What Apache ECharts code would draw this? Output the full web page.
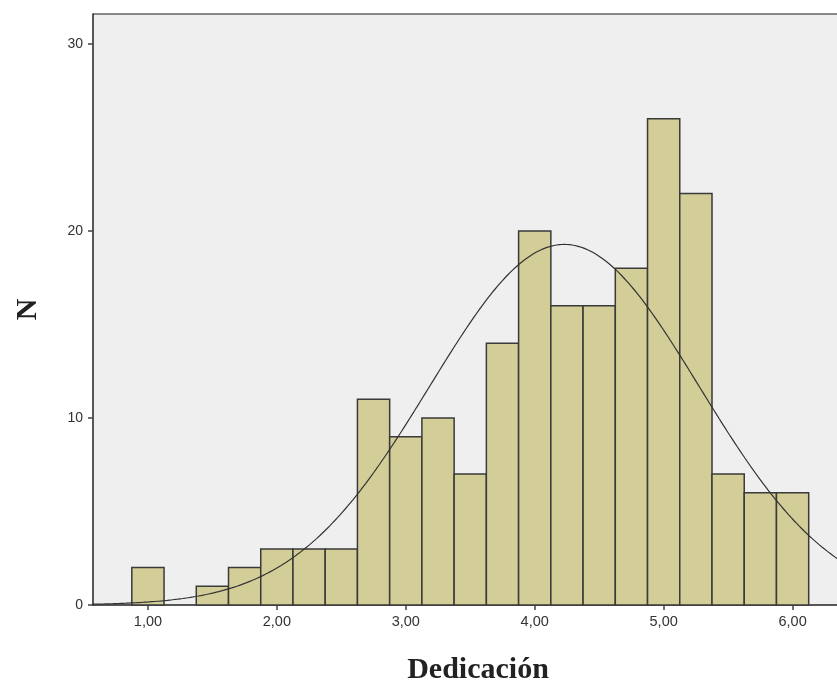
<!DOCTYPE html>
<html><head><meta charset="utf-8">
<script src="https://cdn.jsdelivr.net/npm/echarts@6/dist/echarts.min.js"></script>
<style>html,body{margin:0;padding:0;background:#fff}#c{width:837px;height:684px}</style>
</head><body><div id="c"></div>
<script>
// Histogram bins (left edges) and counts
const binStarts = [0.875,1.125,1.375,1.625,1.875,2.125,2.375,2.625,2.875,3.125,3.375,3.625,3.875,4.125,4.375,4.625,4.875,5.125,5.375,5.625,5.875];
const counts    = [2,0,1,2,3,3,3,11,9,10,7,14,20,16,16,18,26,22,7,6,6];
const binWidth = 0.25;
const xTicks = [1,2,3,4,5,6];
const xTickLabels = ['1,00','2,00','3,00','4,00','5,00','6,00'];
const yTicks = [0,10,20,30];
// Fitted normal curve parameters (estimated)
const MEAN = 4.23;
const SD = 1.045;
const N = 202;

const curve = [];
for (let x = 0.57; x <= 6.36; x += 0.02) {
  const y = N * binWidth / (SD * Math.sqrt(2 * Math.PI)) * Math.exp(-0.5 * Math.pow((x - MEAN) / SD, 2));
  curve.push([x, y]);
}
const barData = binStarts.map((s, i) => [s, s + binWidth, counts[i]]).filter(d => d[2] > 0);

const chart = echarts.init(document.getElementById('c'));
chart.setOption({
  animation: false,
  backgroundColor: '#ffffff',
  grid: { left: 93, right: -2, top: 14, bottom: 79, show: true, backgroundColor: '#efefef', borderWidth: 0, outerBoundsMode: 'none', containLabel: false },
  xAxis: {
    type: 'value', min: 0.574, max: 6.36,
    axisLine: { show: true, onZero: false, lineStyle: { color: '#222', width: 1.5 } },
    axisTick: { show: true, customValues: xTicks, length: 5, lineStyle: { color: '#444', width: 1.5 } },
    axisLabel: { customValues: xTicks, formatter: v => xTickLabels[xTicks.indexOf(Math.round(v))] || '', color: '#333', fontSize: 14.5, fontFamily: 'Liberation Sans, Arial, sans-serif', margin: 9 },
    splitLine: { show: false },
    name: 'Dedicación', nameLocation: 'middle', nameGap: 50,
    nameTextStyle: { fontFamily: 'Liberation Serif', fontWeight: 'bold', fontSize: 30, color: '#222', padding: [0, 0, 0, 24] }
  },
  yAxis: {
    type: 'value', min: 0, max: 31.6,
    axisLine: { show: true, lineStyle: { color: '#222', width: 1.5 } },
    axisTick: { show: true, customValues: yTicks, length: 5, lineStyle: { color: '#444', width: 1.5 } },
    axisLabel: { customValues: yTicks, color: '#333', fontSize: 14, fontFamily: 'Liberation Sans, Arial, sans-serif', margin: 10 },
    splitLine: { show: false },
    name: 'N', nameLocation: 'middle', nameGap: 50, nameRotate: 90,
    nameTextStyle: { fontFamily: 'Liberation Serif', fontWeight: 'bold', fontSize: 30, color: '#222' }
  },
  graphic: [{ type: 'line', shape: { x1: 93, y1: 14, x2: 837, y2: 14 }, style: { stroke: '#888', lineWidth: 2 } }],
  series: [
    {
      type: 'custom',
      data: barData,
      renderItem: function (params, api) {
        const p0 = api.coord([api.value(0), api.value(2)]);
        const p1 = api.coord([api.value(1), 0]);
        return {
          type: 'rect',
          shape: { x: p0[0], y: p0[1], width: p1[0] - p0[0], height: p1[1] - p0[1] },
          style: { fill: '#d3cd97', stroke: '#3a3a3a', lineWidth: 1.5 }
        };
      },
      encode: { x: [0, 1], y: 2 },
      z: 2
    },
    {
      type: 'line', data: curve, showSymbol: false, smooth: false,
      lineStyle: { color: '#333', width: 1.2 }, z: 3
    }
  ]
});
</script></body></html>
